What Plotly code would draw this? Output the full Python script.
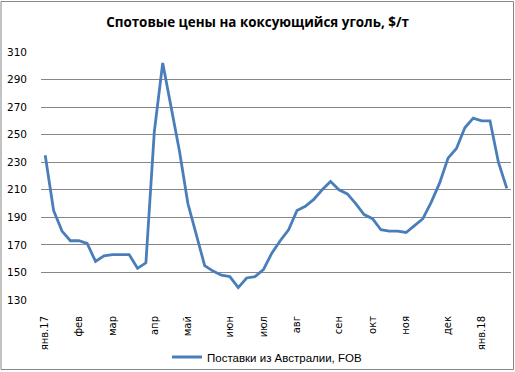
import plotly.graph_objects as go

# Weekly observations (week index from early Jan 2017)
weeks = list(range(56))
prices = [235, 195, 180, 173, 173, 171, 158, 162, 163, 163,
          163, 153, 157, 252, 302, 270, 238, 200, 178, 155,
          151, 148, 147, 139, 146, 147, 152, 164, 173, 181,
          195, 198, 203, 210, 216, 210, 207, 200, 192, 189,
          181, 180, 180, 179, 184, 189, 201, 215, 233, 240,
          255, 262, 260, 260, 230, 211]
tick_weeks = [0, 4, 8, 13, 17, 22, 26, 30, 35, 39, 43, 48, 52]
tick_labels = ["янв.17", "фев", "мар", "апр", "май", "июн", "июл",
               "авг", "сен", "окт", "ноя", "дек", "янв.18"]
series_name = "Поставки из Австралии, FOB"
title = "Спотовые цены на коксующийся уголь, $/т"

W, H = 515, 372
L, R, T, B = 41, 4, 52, 72
pw, ph = W - L - R, H - T - B

fig = go.Figure()
fig.add_trace(go.Scatter(
    x=weeks, y=prices, mode="lines", name=series_name,
    line=dict(color="#4a7ebb", width=2.8),
))

fig.update_layout(
    width=W, height=H,
    margin=dict(l=L, r=R, t=T, b=B, pad=0, autoexpand=False),
    paper_bgcolor="white", plot_bgcolor="white",
    title=dict(text="<b>" + title + "</b>", x=0.5, xref="container", xanchor="center",
               y=1 - 22 / H, yanchor="middle", automargin=False,
               font=dict(family="Open Sans", size=13.4, color="black")),
    font=dict(family="DejaVu Sans", size=10, color="black"),
    showlegend=True,
    legend=dict(orientation="h", x=167 / W, xanchor="left", xref="container",
                y=1 - 357 / H, yanchor="middle", yref="container",
                font=dict(family="Liberation Sans", size=11.5, color="black"),
                itemwidth=30, bgcolor="rgba(0,0,0,0)"),
    xaxis=dict(
        range=[-0.5, 55.5], tickmode="array", tickvals=tick_weeks,
        ticktext=tick_labels, tickangle=-90, showgrid=False,
        zeroline=False, showline=False, ticks="", ticklen=0,
        automargin=False, ticklabelstandoff=13,
        tickfont=dict(family="DejaVu Sans", size=10, color="black"),
    ),
    yaxis=dict(
        range=[130, 310], dtick=20, tick0=130, showgrid=True,
        gridcolor="#868686", gridwidth=1, zeroline=False,
        showline=False, ticks="", automargin=False, ticklabelstandoff=13,
        tickfont=dict(family="DejaVu Sans", size=10.5, color="black"),
    ),
    shapes=[dict(
        type="rect", xref="paper", yref="paper",
        x0=(1 - L) / pw, x1=(W - 1.5 - L) / pw,
        y0=-(H - 2.5 - T - ph) / ph, y1=(T - 1.5) / ph + 1,
        line=dict(color="#868686", width=1), fillcolor="rgba(0,0,0,0)",
        layer="below",
    )],
)

fig.write_html("out.html",
               config={"displayModeBar": False},
               post_script="document.body.style.margin='0';"
                           "document.body.style.overflow='hidden';")
